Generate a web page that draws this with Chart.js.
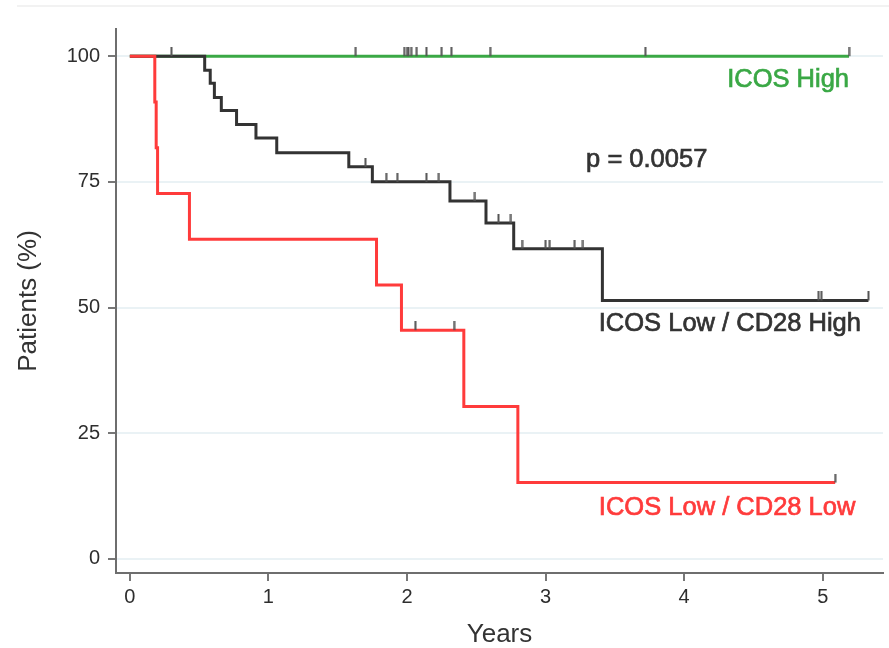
<!DOCTYPE html>
<html>
<head>
<meta charset="utf-8">
<script src="https://cdn.jsdelivr.net/npm/chart.js@4.4.1/dist/chart.umd.min.js"></script>
<style>
  html, body { margin: 0; padding: 0; background: #ffffff; }
  #wrap { width: 889px; height: 648px; position: relative; }
</style>
</head>
<body>
<div id="wrap"><canvas id="c"></canvas></div>
<script>
// ---- Data (years, % patients) ----
const xTicks = [0, 1, 2, 3, 4, 5];
const yTicks = [0, 25, 50, 75, 100];

// ICOS High: no events
const highTimes = [0, 5.19];
const highSurv  = [100, 100];
const highCensorTimes = [0.30, 1.63, 1.98, 2.00, 2.01, 2.03, 2.07, 2.14, 2.25, 2.32, 2.60, 3.72, 5.19];
const highCensorSurv  = [100, 100, 100, 100, 100, 100, 100, 100, 100, 100, 100, 100, 100];

// ICOS Low / CD28 High
const cd28HighTimes = [0, 0.54, 0.58, 0.61, 0.66, 0.77, 0.91, 1.06, 1.58, 1.75, 2.31, 2.57, 2.77, 3.41, 5.33];
const cd28HighSurv  = [100, 97.2, 94.6, 91.8, 89.2, 86.4, 83.7, 80.8, 78.0, 75.0, 71.2, 66.8, 61.7, 51.4, 51.4];
const cd28HighCensorTimes = [1.70, 1.85, 1.93, 2.14, 2.23, 2.49, 2.66, 2.75, 2.83, 3.00, 3.03, 3.21, 3.27, 4.97, 4.99, 5.33];
const cd28HighCensorSurv  = [78.0, 75.0, 75.0, 75.0, 75.0, 71.2, 66.8, 66.8, 61.7, 61.7, 61.7, 61.7, 61.7, 51.4, 51.4, 51.4];

// ICOS Low / CD28 Low
const cd28LowTimes = [0, 0.18, 0.19, 0.20, 0.43, 1.78, 1.96, 2.41, 2.80, 5.09];
const cd28LowSurv  = [100, 90.9, 81.8, 72.7, 63.6, 54.5, 45.5, 30.3, 15.2, 15.2];
const cd28LowCensorTimes = [2.06, 2.34, 5.09];
const cd28LowCensorSurv  = [45.5, 45.5, 15.2];

const labels = [
  { text: 'ICOS High', x: 4.75, y: 95.2, color: '#3aa845' },
  { text: 'p = 0.0057', x: 3.73, y: 79.3, color: '#333333' },
  { text: 'ICOS Low / CD28 High', x: 4.33, y: 46.7, color: '#333333' },
  { text: 'ICOS Low / CD28 Low', x: 4.31, y: 10.1, color: '#ff3b3b' }
];

// ---- helpers ----
const pts = (xs, ys) => xs.map((x, i) => ({ x: x, y: ys[i] }));

// censor mark: a short vertical tick that rises above the point
const tick = document.createElement('canvas');
tick.width = 3; tick.height = 18;
(function () {
  const g = tick.getContext('2d');
  g.fillStyle = '#555555';
  g.fillRect(0.5, 0, 2, 9);
})();

const FONT = "'Liberation Sans', Arial, sans-serif";

const annotate = {
  id: 'annotate',
  beforeDraw(chart) {
    const ctx = chart.ctx;
    ctx.save();
    ctx.fillStyle = 'rgba(0,0,0,0.05)';
    ctx.fillRect(17, 5, 872, 2);
    ctx.restore();
  },
  afterDatasetsDraw(chart) {
    const ctx = chart.ctx;
    const xs = chart.scales.x, ys = chart.scales.y;
    ctx.save();
    ctx.font = '25.5px ' + FONT;
    ctx.textAlign = 'center';
    ctx.textBaseline = 'middle';
    ctx.lineWidth = 0.7;
    labels.forEach(l => {
      const px = xs.getPixelForValue(l.x), py = ys.getPixelForValue(l.y);
      ctx.fillStyle = l.color;
      ctx.strokeStyle = l.color;
      ctx.fillText(l.text, px, py);
      ctx.strokeText(l.text, px, py);
    });
    ctx.restore();
  }
};

const lineDs = (data, color, order) => ({
  type: 'line', data: data, borderColor: color, borderWidth: 3,
  stepped: 'before', pointRadius: 0, fill: false, order: order, tension: 0
});
const censorDs = (data) => ({
  type: 'scatter', data: data, pointStyle: tick, pointRadius: 5,
  showLine: false, order: 0
});

new Chart(document.getElementById('c'), {
  type: 'line',
  data: {
    datasets: [
      lineDs(pts(cd28LowTimes, cd28LowSurv), '#ff3b3b', 1),
      lineDs(pts(cd28HighTimes, cd28HighSurv), '#333333', 2),
      lineDs(pts(highTimes, highSurv), '#3aa845', 3),
      censorDs(pts(highCensorTimes, highCensorSurv)),
      censorDs(pts(cd28HighCensorTimes, cd28HighCensorSurv)),
      censorDs(pts(cd28LowCensorTimes, cd28LowCensorSurv))
    ]
  },
  options: {
    responsive: true,
    maintainAspectRatio: false,
    animation: false,
    layout: { padding: { top: 29, right: 3, left: 0, bottom: 0 } },
    plugins: { legend: { display: false }, tooltip: { enabled: false } },
    scales: {
      x: {
        type: 'linear', min: -0.10, max: 5.435,
        afterBuildTicks: s => { s.ticks = xTicks.map(v => ({ value: v })); },
        afterFit: s => { s.height = 75; },
        grid: { drawOnChartArea: false, drawTicks: true, tickLength: 8, tickColor: '#777777', color: '#777777', lineWidth: 2 },
        border: { display: true, color: '#6e6e6e', width: 2 },
        ticks: { color: '#2e2e2e', font: { family: FONT, size: 20 }, padding: 4 },
        title: { display: true, text: 'Years', color: '#333333', font: { family: FONT, size: 26, lineHeight: 1 }, padding: { top: 0, bottom: 0 } }
      },
      y: {
        type: 'linear', min: -2.8, max: 105.4,
        afterBuildTicks: s => { s.ticks = yTicks.map(v => ({ value: v })); },
        afterFit: s => { s.width = 116; },
        grid: { drawOnChartArea: true, drawTicks: true, tickLength: 8, color: '#eaf2f5', tickColor: '#777777', lineWidth: 2 },
        border: { display: true, color: '#6e6e6e', width: 2 },
        ticks: { color: '#2e2e2e', font: { family: FONT, size: 20 }, padding: 8 },
        title: { display: true, text: 'Patients (%)', color: '#333333', font: { family: FONT, size: 26, lineHeight: 1 }, padding: { top: 16, bottom: 0 } }
      }
    }
  },
  plugins: [annotate]
});
</script>
</body>
</html>
